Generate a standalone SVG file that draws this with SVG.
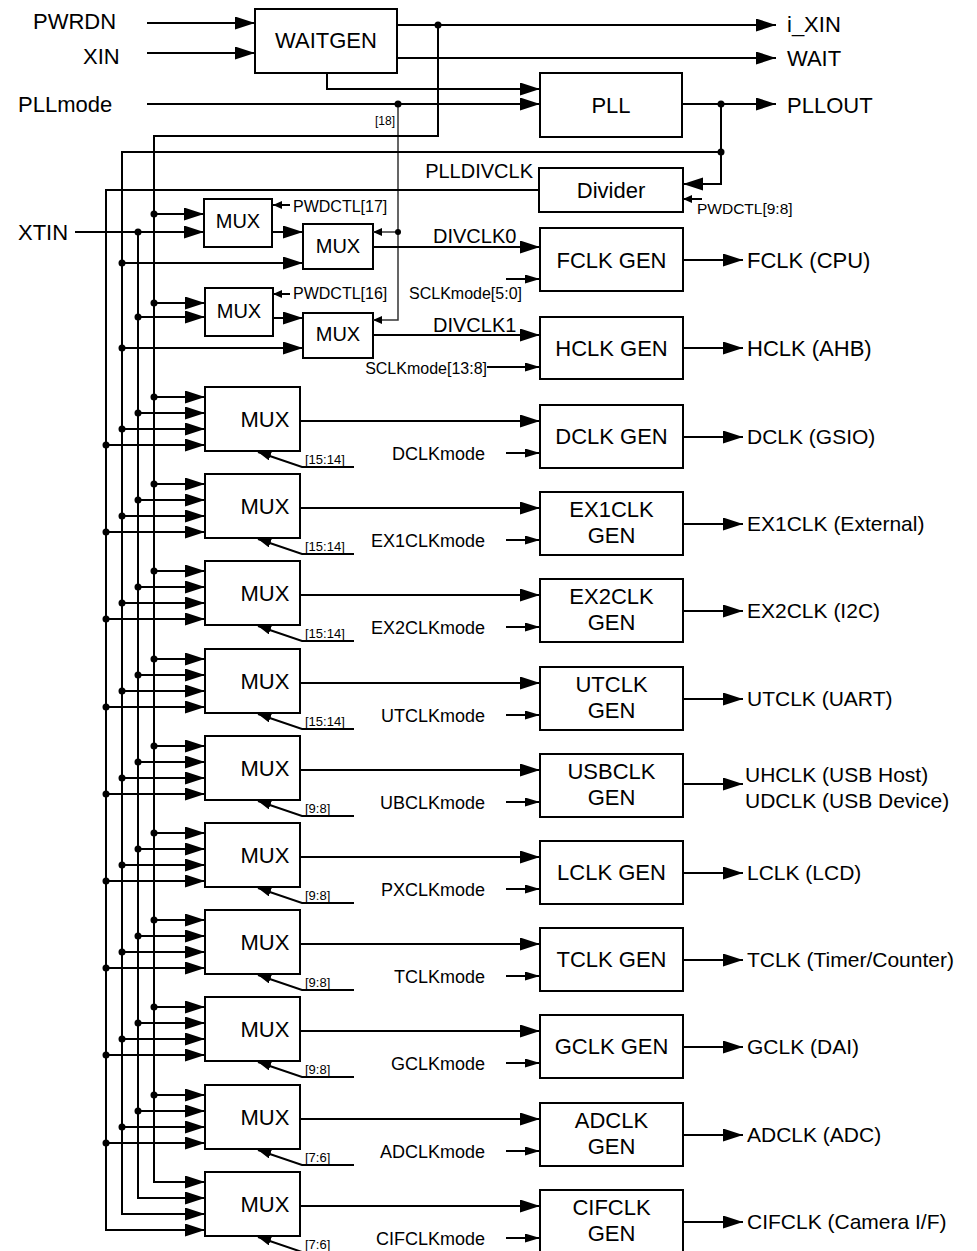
<svg xmlns="http://www.w3.org/2000/svg" width="977" height="1251" viewBox="0 0 977 1251">
<style>
text{font-family:"Liberation Sans",Arial,sans-serif;fill:#000}
.b{font-size:22px}
.o{font-size:21px}
.m20{font-size:20px}
.s16{font-size:16px}
.s15{font-size:15.5px}
.md{font-size:18px}
.bit{font-size:13px}
.c{text-anchor:middle}
.e{text-anchor:end}
rect{fill:#fff;stroke:#000;stroke-width:2}
.w{fill:none;stroke:#000;stroke-width:2}
.g{fill:none;stroke:#333;stroke-width:1.5}
.dot{fill:#000}
.A{marker-end:url(#ab)}
.S{marker-end:url(#as)}
.T{marker-end:url(#at)}
.C{marker-end:url(#ac)}
</style>
<defs>
<marker id="ab" markerUnits="userSpaceOnUse" markerWidth="22" markerHeight="14" refX="20" refY="6.5" orient="auto"><path d="M0,0 L20,6.5 L0,13 z" fill="#000"/></marker>
<marker id="as" markerUnits="userSpaceOnUse" markerWidth="16" markerHeight="10" refX="15" refY="4.5" orient="auto"><path d="M0,0 L15,4.5 L0,9 z" fill="#000"/></marker>
<marker id="at" markerUnits="userSpaceOnUse" markerWidth="10" markerHeight="9" refX="9" refY="4" orient="auto"><path d="M0,0 L9,4 L0,8 z" fill="#000"/></marker>
<marker id="ac" markerUnits="userSpaceOnUse" markerWidth="14" markerHeight="10" refX="13" refY="4.5" orient="auto"><path d="M0,0 L13,4.5 L0,9 z" fill="#000"/></marker>
</defs>

<g id="inputs">
<text class="b" x="33" y="29">PWRDN</text>
<text class="b" x="83" y="64">XIN</text>
<text class="b" x="18" y="112">PLLmode</text>
<text class="b" x="18" y="240">XTIN</text>
<text class="b" x="787" y="32">i_XIN</text>
<text class="b" x="787" y="66">WAIT</text>
<text class="b" x="787" y="113">PLLOUT</text>
<text x="395" y="125" class="e" font-size="12">[18]</text>
</g>

<g id="waitgen"><rect x="255" y="9" width="142" height="64"/><text class="b c" x="326" y="48">WAITGEN</text></g>
<g id="pll"><rect x="540" y="73" width="142" height="64"/><text class="b c" x="611" y="113">PLL</text></g>
<g id="divider"><rect x="539" y="168" width="144" height="44"/><text class="b c" x="611" y="198">Divider</text>
<text class="m20 e" x="533" y="178">PLLDIVCLK</text><text class="s15" x="697" y="214">PWDCTL[9:8]</text></g>

<g id="muxA1"><rect x="204" y="199" width="68" height="48"/><text class="m20 c" x="238" y="228">MUX</text><text class="s16" x="293" y="212">PWDCTL[17]</text></g>
<g id="muxB1"><rect x="303" y="224" width="70" height="45"/><text class="m20 c" x="338" y="253">MUX</text></g>
<g id="muxA2"><rect x="205" y="288" width="68" height="48"/><text class="m20 c" x="239" y="318">MUX</text><text class="s16" x="293" y="299">PWDCTL[16]</text></g>
<g id="muxB2"><rect x="303" y="313" width="70" height="45"/><text class="m20 c" x="338" y="341">MUX</text></g>

<g id="fclkgen"><rect x="540" y="228" width="143" height="63"/><text class="b c" x="611.5" y="268">FCLK GEN</text>
<text class="s16 e" x="522" y="299">SCLKmode[5:0]</text><text class="m20" x="433" y="243">DIVCLK0</text><text class="b" x="747" y="268">FCLK (CPU)</text></g>
<g id="hclkgen"><rect x="540" y="317" width="143" height="62"/><text class="b c" x="611.5" y="356">HCLK GEN</text>
<text class="s16 e" x="487" y="374">SCLKmode[13:8]</text><text class="m20" x="433" y="332">DIVCLK1</text><text class="b" x="747" y="356">HCLK (AHB)</text></g>

<g id="row0" transform="translate(0,387)">
<g id="mux0"><rect x="205" y="0" width="95" height="64"/><text class="b c" x="265" y="40">MUX</text><text class="bit" x="305" y="77">[15:14]</text></g>
<g id="gen0"><rect x="540" y="18" width="143" height="63"/><text class="b c" x="611.5" y="57">DCLK GEN</text><text class="md e" x="485" y="73">DCLKmode</text><text class="o" x="747" y="57">DCLK (GSIO)</text></g>
</g>
<g id="row1" transform="translate(0,474)">
<g id="mux1"><rect x="205" y="0" width="95" height="64"/><text class="b c" x="265" y="40">MUX</text><text class="bit" x="305" y="77">[15:14]</text></g>
<g id="gen1"><rect x="540" y="18" width="143" height="63"/><text class="b c" x="611.5" y="43">EX1CLK</text><text class="b c" x="611.5" y="69">GEN</text><text class="md e" x="485" y="73">EX1CLKmode</text><text class="o" x="747" y="57">EX1CLK (External)</text></g>
</g>
<g id="row2" transform="translate(0,561)">
<g id="mux2"><rect x="205" y="0" width="95" height="64"/><text class="b c" x="265" y="40">MUX</text><text class="bit" x="305" y="77">[15:14]</text></g>
<g id="gen2"><rect x="540" y="18" width="143" height="63"/><text class="b c" x="611.5" y="43">EX2CLK</text><text class="b c" x="611.5" y="69">GEN</text><text class="md e" x="485" y="73">EX2CLKmode</text><text class="o" x="747" y="57">EX2CLK (I2C)</text></g>
</g>
<g id="row3" transform="translate(0,649)">
<g id="mux3"><rect x="205" y="0" width="95" height="64"/><text class="b c" x="265" y="40">MUX</text><text class="bit" x="305" y="77">[15:14]</text></g>
<g id="gen3"><rect x="540" y="18" width="143" height="63"/><text class="b c" x="611.5" y="43">UTCLK</text><text class="b c" x="611.5" y="69">GEN</text><text class="md e" x="485" y="73">UTCLKmode</text><text class="o" x="747" y="57">UTCLK (UART)</text></g>
</g>
<g id="row4" transform="translate(0,736)">
<g id="mux4"><rect x="205" y="0" width="95" height="64"/><text class="b c" x="265" y="40">MUX</text><text class="bit" x="305" y="77">[9:8]</text></g>
<g id="gen4"><rect x="540" y="18" width="143" height="63"/><text class="b c" x="611.5" y="43">USBCLK</text><text class="b c" x="611.5" y="69">GEN</text><text class="md e" x="485" y="73">UBCLKmode</text><text class="o" x="745" y="46">UHCLK (USB Host)</text><text class="o" x="745" y="72">UDCLK (USB Device)</text></g>
</g>
<g id="row5" transform="translate(0,823)">
<g id="mux5"><rect x="205" y="0" width="95" height="64"/><text class="b c" x="265" y="40">MUX</text><text class="bit" x="305" y="77">[9:8]</text></g>
<g id="gen5"><rect x="540" y="18" width="143" height="63"/><text class="b c" x="611.5" y="57">LCLK GEN</text><text class="md e" x="485" y="73">PXCLKmode</text><text class="o" x="747" y="57">LCLK (LCD)</text></g>
</g>
<g id="row6" transform="translate(0,910)">
<g id="mux6"><rect x="205" y="0" width="95" height="64"/><text class="b c" x="265" y="40">MUX</text><text class="bit" x="305" y="77">[9:8]</text></g>
<g id="gen6"><rect x="540" y="18" width="143" height="63"/><text class="b c" x="611.5" y="57">TCLK GEN</text><text class="md e" x="485" y="73">TCLKmode</text><text class="o" x="747" y="57">TCLK (Timer/Counter)</text></g>
</g>
<g id="row7" transform="translate(0,997)">
<g id="mux7"><rect x="205" y="0" width="95" height="64"/><text class="b c" x="265" y="40">MUX</text><text class="bit" x="305" y="77">[9:8]</text></g>
<g id="gen7"><rect x="540" y="18" width="143" height="63"/><text class="b c" x="611.5" y="57">GCLK GEN</text><text class="md e" x="485" y="73">GCLKmode</text><text class="o" x="747" y="57">GCLK (DAI)</text></g>
</g>
<g id="row8" transform="translate(0,1085)">
<g id="mux8"><rect x="205" y="0" width="95" height="64"/><text class="b c" x="265" y="40">MUX</text><text class="bit" x="305" y="77">[7:6]</text></g>
<g id="gen8"><rect x="540" y="18" width="143" height="63"/><text class="b c" x="611.5" y="43">ADCLK</text><text class="b c" x="611.5" y="69">GEN</text><text class="md e" x="485" y="73">ADCLKmode</text><text class="o" x="747" y="57">ADCLK (ADC)</text></g>
</g>
<g id="row9" transform="translate(0,1172)">
<g id="mux9"><rect x="205" y="0" width="95" height="64"/><text class="b c" x="265" y="40">MUX</text><text class="bit" x="305" y="77">[7:6]</text></g>
<g id="gen9"><rect x="540" y="18" width="143" height="63"/><text class="b c" x="611.5" y="43">CIFCLK</text><text class="b c" x="611.5" y="69">GEN</text><text class="md e" x="485" y="73">CIFCLKmode</text><text class="o" x="747" y="57">CIFCLK (Camera I/F)</text></g>
</g>

<g id="connectors">
<path class="w A" d="M147,23 H255"/>
<path class="w A" d="M147,53 H255"/>
<path class="w A" d="M397,25 H776"/>
<path class="w A" d="M397,58 H776"/>
<path class="w A" d="M327,73 V89 H540"/>
<path class="w A" d="M147,104 H540"/>
<path class="w A" d="M682,104 H776"/>
<path class="w A" d="M721,104 V184 H683"/>
<path class="w T" d="M702,199 H683"/>
<path class="g T" d="M398,104 V320 H373"/>
<path class="g T" d="M398,232 H373"/>
<path class="w A" d="M438,25 V136 H154 V1182 H205"/>
<path class="w A" d="M75,232 H204"/>
<path class="w A" d="M138,232 V1198 H205"/>
<path class="w A" d="M721,152 H122 V1214 H205"/>
<path class="w A" d="M539,190 H106 V1230 H205"/>
<path class="w A" d="M154,214 H204"/>
<path class="w T" d="M290,205 H273"/>
<path class="w A" d="M272,232 H303"/>
<path class="w A" d="M122,263 H303"/>
<path class="w A" d="M373,247 H540"/>
<path class="w A" d="M154,303 H205"/>
<path class="w A" d="M138,317 H205"/>
<path class="w T" d="M290,294 H273"/>
<path class="w A" d="M273,318 H303"/>
<path class="w A" d="M122,348 H303"/>
<path class="w A" d="M373,335 H540"/>
<path class="w S" d="M506,279 H540"/>
<path class="w S" d="M487,367 H540"/>
<path class="w A" d="M683,260 H743"/>
<path class="w A" d="M683,348 H743"/>
<g class="dot">
<circle cx="438" cy="25" r="3.5"/><circle cx="398" cy="104" r="3.5"/><circle cx="721" cy="104" r="3.5"/><circle cx="721" cy="152" r="3.5"/>
<circle cx="154" cy="214" r="3.5"/><circle cx="138" cy="232" r="3.5"/><circle cx="122" cy="263" r="3.5"/><circle cx="398" cy="232" r="3"/>
<circle cx="154" cy="303" r="3.5"/><circle cx="138" cy="317" r="3.5"/><circle cx="122" cy="348" r="3.5"/>
</g>
<g transform="translate(0,387)"><path class="w A" d="M154,10 H205"/><path class="w A" d="M138,26 H205"/><path class="w A" d="M122,42 H205"/><path class="w A" d="M106,58 H205"/><g class="dot"><circle cx="154" cy="10" r="3.5"/><circle cx="138" cy="26" r="3.5"/><circle cx="122" cy="42" r="3.5"/><circle cx="106" cy="58" r="3.5"/></g><path class="w A" d="M300,34 H540"/><path class="w C" d="M354,80 H302 L258,65"/><path class="w S" d="M506,66 H540"/><path class="w A" d="M683,50 H743"/></g>
<g transform="translate(0,474)"><path class="w A" d="M154,10 H205"/><path class="w A" d="M138,26 H205"/><path class="w A" d="M122,42 H205"/><path class="w A" d="M106,58 H205"/><g class="dot"><circle cx="154" cy="10" r="3.5"/><circle cx="138" cy="26" r="3.5"/><circle cx="122" cy="42" r="3.5"/><circle cx="106" cy="58" r="3.5"/></g><path class="w A" d="M300,34 H540"/><path class="w C" d="M354,80 H302 L258,65"/><path class="w S" d="M506,66 H540"/><path class="w A" d="M683,50 H743"/></g>
<g transform="translate(0,561)"><path class="w A" d="M154,10 H205"/><path class="w A" d="M138,26 H205"/><path class="w A" d="M122,42 H205"/><path class="w A" d="M106,58 H205"/><g class="dot"><circle cx="154" cy="10" r="3.5"/><circle cx="138" cy="26" r="3.5"/><circle cx="122" cy="42" r="3.5"/><circle cx="106" cy="58" r="3.5"/></g><path class="w A" d="M300,34 H540"/><path class="w C" d="M354,80 H302 L258,65"/><path class="w S" d="M506,66 H540"/><path class="w A" d="M683,50 H743"/></g>
<g transform="translate(0,649)"><path class="w A" d="M154,10 H205"/><path class="w A" d="M138,26 H205"/><path class="w A" d="M122,42 H205"/><path class="w A" d="M106,58 H205"/><g class="dot"><circle cx="154" cy="10" r="3.5"/><circle cx="138" cy="26" r="3.5"/><circle cx="122" cy="42" r="3.5"/><circle cx="106" cy="58" r="3.5"/></g><path class="w A" d="M300,34 H540"/><path class="w C" d="M354,80 H302 L258,65"/><path class="w S" d="M506,66 H540"/><path class="w A" d="M683,50 H743"/></g>
<g transform="translate(0,736)"><path class="w A" d="M154,10 H205"/><path class="w A" d="M138,26 H205"/><path class="w A" d="M122,42 H205"/><path class="w A" d="M106,58 H205"/><g class="dot"><circle cx="154" cy="10" r="3.5"/><circle cx="138" cy="26" r="3.5"/><circle cx="122" cy="42" r="3.5"/><circle cx="106" cy="58" r="3.5"/></g><path class="w A" d="M300,34 H540"/><path class="w C" d="M354,80 H302 L258,65"/><path class="w S" d="M506,66 H540"/><path class="w A" d="M683,48 H743"/></g>
<g transform="translate(0,823)"><path class="w A" d="M154,10 H205"/><path class="w A" d="M138,26 H205"/><path class="w A" d="M122,42 H205"/><path class="w A" d="M106,58 H205"/><g class="dot"><circle cx="154" cy="10" r="3.5"/><circle cx="138" cy="26" r="3.5"/><circle cx="122" cy="42" r="3.5"/><circle cx="106" cy="58" r="3.5"/></g><path class="w A" d="M300,34 H540"/><path class="w C" d="M354,80 H302 L258,65"/><path class="w S" d="M506,66 H540"/><path class="w A" d="M683,50 H743"/></g>
<g transform="translate(0,910)"><path class="w A" d="M154,10 H205"/><path class="w A" d="M138,26 H205"/><path class="w A" d="M122,42 H205"/><path class="w A" d="M106,58 H205"/><g class="dot"><circle cx="154" cy="10" r="3.5"/><circle cx="138" cy="26" r="3.5"/><circle cx="122" cy="42" r="3.5"/><circle cx="106" cy="58" r="3.5"/></g><path class="w A" d="M300,34 H540"/><path class="w C" d="M354,80 H302 L258,65"/><path class="w S" d="M506,66 H540"/><path class="w A" d="M683,50 H743"/></g>
<g transform="translate(0,997)"><path class="w A" d="M154,10 H205"/><path class="w A" d="M138,26 H205"/><path class="w A" d="M122,42 H205"/><path class="w A" d="M106,58 H205"/><g class="dot"><circle cx="154" cy="10" r="3.5"/><circle cx="138" cy="26" r="3.5"/><circle cx="122" cy="42" r="3.5"/><circle cx="106" cy="58" r="3.5"/></g><path class="w A" d="M300,34 H540"/><path class="w C" d="M354,80 H302 L258,65"/><path class="w S" d="M506,66 H540"/><path class="w A" d="M683,50 H743"/></g>
<g transform="translate(0,1085)"><path class="w A" d="M154,10 H205"/><path class="w A" d="M138,26 H205"/><path class="w A" d="M122,42 H205"/><path class="w A" d="M106,58 H205"/><g class="dot"><circle cx="154" cy="10" r="3.5"/><circle cx="138" cy="26" r="3.5"/><circle cx="122" cy="42" r="3.5"/><circle cx="106" cy="58" r="3.5"/></g><path class="w A" d="M300,34 H540"/><path class="w C" d="M354,80 H302 L258,65"/><path class="w S" d="M506,66 H540"/><path class="w A" d="M683,50 H743"/></g>
<g transform="translate(0,1172)"><path class="w A" d="M300,34 H540"/><path class="w C" d="M354,80 H302 L258,65"/><path class="w S" d="M506,66 H540"/><path class="w A" d="M683,50 H743"/></g>
</g>
</svg>
